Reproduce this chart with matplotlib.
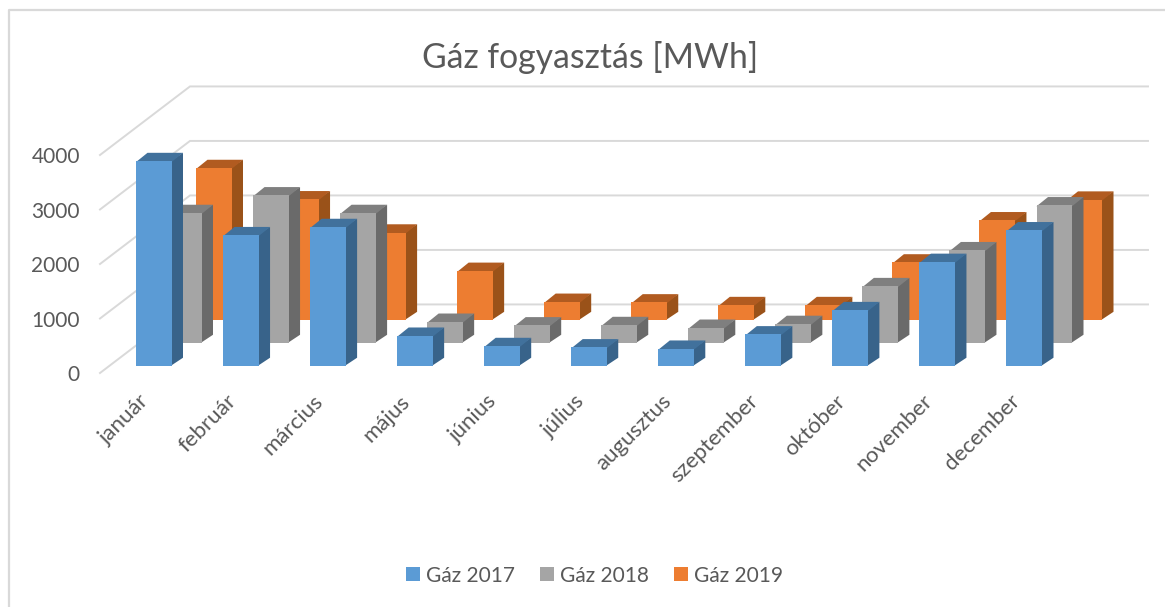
import matplotlib
matplotlib.use('Agg')
import matplotlib.pyplot as plt
from matplotlib.lines import Line2D
from matplotlib.patches import Patch
from matplotlib.transforms import ScaledTranslation

plt.rcParams['font.family'] = ['Lato', 'DejaVu Sans']

# data
honapok = ['január', 'február', 'március', 'május', 'június', 'július',
           'augusztus', 'szeptember', 'október', 'november', 'december']
gaz_2017 = [3760, 2400, 2550, 555, 366, 342, 317, 580, 1025, 1910, 2490]
gaz_2018 = [2386, 2710, 2386, 390, 324, 330, 280, 350, 1044, 1703, 2527]
gaz_2019 = [2790, 2216, 1606, 903, 335, 324, 275, 275, 1057, 1831, 2210]
y_ticks = [0, 1000, 2000, 3000, 4000]

W, H = 1165, 607
AX_L, AX_R, AX_T, AX_B = 100, 1148, 155, 373
# pixel -> data
PX_X = 1 / 87.05
PX_Y = 1000 / 54.6

GREY = '#595959'
GRID = '#d9d9d9'

# bar geometry, in data units
BAR_W = 35.5 * PX_X
SIDE_X = 11.5 * PX_X
SIDE_Y = 8.3 * PX_Y
SHIFT_X = 30 * PX_X   # next series, going back
SHIFT_Y = 23 * PX_Y
FRONT_Y = 7 * PX_Y    # front row base above the floor edge
WALL_X = 90 * PX_X
WALL_Y = 68.7 * PX_Y

fig = plt.figure(figsize=(W / 100, H / 100), dpi=100, facecolor='white')
ax = fig.add_axes([AX_L / W, 1 - AX_B / H, (AX_R - AX_L) / W, (AX_B - AX_T) / H])
x0 = -(153.75 - AX_L) * PX_X
x1 = (AX_R - 153.75) * PX_X
ax.set_xlim(x0, x1)
ax.set_ylim(0, 4000)
ax.patch.set_visible(False)
for s in ax.spines.values():
    s.set_visible(False)

# chart frame (left and top only)
fig.add_artist(Line2D([9 / W, 9 / W, 1], [0, 1 - 10 / H, 1 - 10 / H], color=GRID, lw=1.6))

# gridlines: floor/side wall part + back wall part
for v in y_ticks:
    ax.plot([x0, x0 + WALL_X, x1], [v, v + WALL_Y, v + WALL_Y], color=GRID, lw=1.4,
            clip_on=False, zorder=1, solid_joinstyle='miter')

series = [
    ('Gáz 2019', gaz_2019, 2, '#ED7D31', '#B15B20', '#9A5219'),
    ('Gáz 2018', gaz_2018, 1, '#A5A5A5', '#7F7F7F', '#6A6A6A'),
    ('Gáz 2017', gaz_2017, 0, '#5B9BD5', '#41719C', '#38638A'),
]

z = 2
for name, vals, depth, c_front, c_top, c_side in series:
    base = FRONT_Y + depth * SHIFT_Y
    for i, v in enumerate(vals):
        left = i - BAR_W / 2 + depth * SHIFT_X
        right = left + BAR_W
        top = base + v
        # side and top go 1 px under the front face, no seam then
        ax.fill([right - PX_X, right + SIDE_X, right + SIDE_X, right - PX_X],
                [base, base + SIDE_Y, top + SIDE_Y, top],
                color=c_side, lw=0, clip_on=False, zorder=z)
        ax.fill([left, left + SIDE_X, right + SIDE_X, right],
                [top - PX_Y, top + SIDE_Y, top + SIDE_Y, top - PX_Y],
                color=c_top, lw=0, clip_on=False, zorder=z)
        ax.bar(left, v, BAR_W, bottom=base, align='edge', color=c_front, lw=0,
               clip_on=False, zorder=z + 0.5)
        z += 1

ax.set_yticks(y_ticks)
ax.set_xticks(range(len(honapok)))
ax.set_xticklabels(honapok, rotation=45, ha='right', va='top', rotation_mode='anchor')
ax.tick_params(axis='y', length=0, pad=14.5, labelsize=15, labelcolor=GREY)
ax.tick_params(axis='x', length=0, pad=13, labelsize=16, labelcolor=GREY)
shift = ScaledTranslation(-15 / 100, 0, fig.dpi_scale_trans)
for lab in ax.get_xticklabels():
    lab.set_transform(lab.get_transform() + shift)

fig.text(590 / W, 1 - 58 / H, 'Gáz fogyasztás [MWh]', ha='center', va='center',
         fontsize=24.3, color=GREY)

handles = [Patch(color=c[3], lw=0) for c in reversed(series)]
labels = [c[0] for c in reversed(series)]
fig.legend(handles, labels, ncol=3, loc='center', bbox_to_anchor=(594.5 / W, 1 - 575.5 / H),
           frameon=False, fontsize=15, labelcolor=GREY, handlelength=0.67, handleheight=0.67,
           handletextpad=0.29, columnspacing=1.2, borderpad=0)

fig.savefig('out.png', dpi=100)
